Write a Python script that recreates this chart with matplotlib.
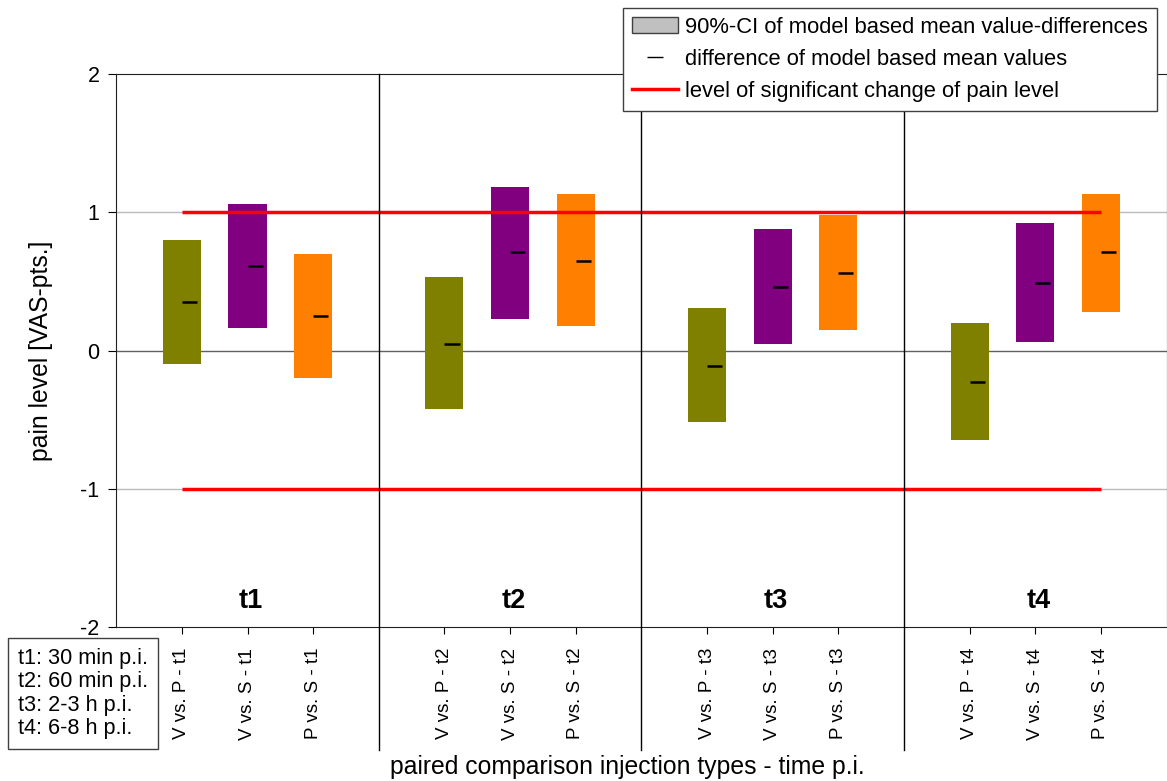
"""
Paarvergleiche der Injektionstypen: 90%-KI und Mittelwertdifferenzen je Zeitpunkt.
"""

import matplotlib
matplotlib.use('Agg')
import matplotlib.pyplot as plt
from matplotlib.lines import Line2D
from matplotlib.patches import Patch
import matplotlib.transforms as mtransforms

plt.rcParams['font.family'] = ['Liberation Sans', 'DejaVu Sans']

# Daten
timepoints = ['t1', 't2', 't3', 't4']
comparisons = ['V vs. P', 'V vs. S', 'P vs. S']
colors = ['#808000', '#800080', '#ff8000']

ci_lower = [
    [-0.10, 0.16, -0.20],
    [-0.42, 0.23, 0.18],
    [-0.52, 0.05, 0.15],
    [-0.65, 0.06, 0.28],
]
ci_upper = [
    [0.80, 1.06, 0.70],
    [0.53, 1.18, 1.13],
    [0.31, 0.88, 0.98],
    [0.20, 0.92, 1.13],
]
mean_diff = [
    [0.35, 0.61, 0.25],
    [0.05, 0.71, 0.65],
    [-0.11, 0.46, 0.56],
    [-0.23, 0.49, 0.71],
]
sig_level = 1.0
time_notes = ['t1: 30 min p.i.', 't2: 60 min p.i.', 't3: 2-3 h p.i.', 't4: 6-8 h p.i.']

fig = plt.figure(figsize=(11.67, 7.81), dpi=100)
ax = fig.add_axes([0.0996, 0.1972, 0.9, 0.708])

bar_w = 0.58
xticks = []
xlabels = []
for g, tp in enumerate(timepoints):
    for k, comp in enumerate(comparisons):
        x = 4 * g + k + 1
        lo = ci_lower[g][k]
        hi = ci_upper[g][k]
        ax.bar(x, hi - lo, bottom=lo, width=bar_w, color=colors[k], zorder=2)
        # Mittelwert als kurzer Strich rechts vom Zentrum
        ax.hlines(mean_diff[g][k], x, x + 0.23, color='black', linewidth=1.8, zorder=4)
        xticks.append(x)
        xlabels.append(f'{comp} - {tp}')
    ax.text(4 * g + 2.05, -1.815, tp, ha='center', va='center',
            fontsize=19.5, fontweight='bold')

# Hilfslinien
ax.axhline(1, color='#bbbbbb', linewidth=1, zorder=1)
ax.axhline(-1, color='#bbbbbb', linewidth=1, zorder=1)
ax.axhline(0, color='#606060', linewidth=1, zorder=1)
ax.hlines([sig_level, -sig_level], 1, 15, color='red', linewidth=2.5, zorder=3)

# Trennlinien zwischen den Zeitpunkten (bis in den Beschriftungsbereich)
trans = mtransforms.blended_transform_factory(ax.transData, ax.transAxes)
for xs in [4, 8, 12]:
    ax.plot([xs, xs], [-0.222, 1], color='black', linewidth=1,
            transform=trans, clip_on=False, zorder=5)

ax.set_xlim(0, 16)
ax.set_ylim(-2, 2)
ax.set_yticks([-2, -1, 0, 1, 2])
ax.set_yticklabels(['-2', '-1', '0', '1', '2'], fontsize=15.5)
ax.set_xticks(xticks)
ax.set_xticklabels(xlabels, rotation=90, fontsize=13.5)
ax.tick_params(axis='y', direction='out', length=6, pad=6)
ax.tick_params(axis='x', direction='out', length=5, pad=10)
for s in ax.spines.values():
    s.set_color('#202020')

ax.set_ylabel('pain level [VAS-pts.]', fontsize=17.8, labelpad=20)
ax.set_xlabel('paired comparison injection types - time p.i.', fontsize=17.8)
ax.xaxis.set_label_coords((627 - 116.2) / (0.9 * 1167), -0.231)

# Legende
handles = [
    Patch(facecolor='#c0c0c0', edgecolor='#404040'),
    Line2D([], [], color='black', marker='_', linestyle='none', markersize=12),
    Line2D([], [], color='red', linewidth=2.5),
]
labels = [
    '90%-CI of model based mean value-differences',
    'difference of model based mean values',
    'level of significant change of pain level',
]
leg = fig.legend(handles, labels, loc='upper right',
                 bbox_to_anchor=(1157 / 1167, 1 - 8 / 781),
                 fontsize=15.8, frameon=True, fancybox=False, framealpha=1,
                 edgecolor='#404040', handlelength=2.1, handletextpad=0.35,
                 labelspacing=0.5, borderpad=0.4, borderaxespad=0)
leg.get_frame().set_linewidth(1)

# Kasten mit Zeitpunkten
fig.text(18 / 1167, 1 - 648 / 781, '\n'.join(time_notes), ha='left', va='top',
         fontsize=15.6, linespacing=1.15,
         bbox=dict(boxstyle='square,pad=0.45', facecolor='white', edgecolor='#404040'))

plt.savefig('out.png', dpi=100)
